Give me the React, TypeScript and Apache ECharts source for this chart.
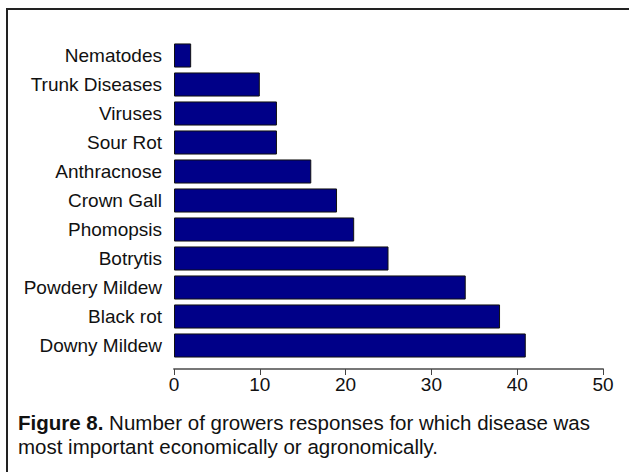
import React, { useEffect, useRef } from "react";
import * as echarts from "echarts";

const categories = [
  "Downy Mildew",
  "Black rot",
  "Powdery Mildew",
  "Botrytis",
  "Phomopsis",
  "Crown Gall",
  "Anthracnose",
  "Sour Rot",
  "Viruses",
  "Trunk Diseases",
  "Nematodes",
];
const responses = [41, 38, 34, 25, 21, 19, 16, 12, 12, 10, 2];
const xTicks = { min: 0, max: 50, interval: 10 };
const captionBold = "Figure 8.";
const captionLine1 = " Number of growers responses for which disease was";
const captionLine2 = "most important economically or agronomically.";

const FONT = "'Liberation Sans', Arial, Helvetica, sans-serif";

export default function App() {
  const ref = useRef<HTMLDivElement>(null);
  useEffect(() => {
    if (!ref.current) return;
    const chart = echarts.init(ref.current, null, { renderer: "svg" });
    chart.setOption({
      animation: false,
      backgroundColor: "#ffffff",
      grid: { left: 174, right: 26, top: 41, height: 319, containLabel: false },
      xAxis: {
        type: "value",
        min: xTicks.min,
        max: xTicks.max,
        interval: xTicks.interval,
        offset: 9,
        axisLine: { show: true, lineStyle: { color: "#777777", width: 2 } },
        axisTick: { show: true, length: 6, lineStyle: { color: "#444444", width: 1 } },
        splitLine: { show: false },
        axisLabel: { color: "#111111", fontSize: 19, fontFamily: FONT, margin: 6 },
      },
      yAxis: {
        type: "category",
        data: categories,
        axisLine: { show: false },
        axisTick: { show: false },
        axisLabel: { color: "#111111", fontSize: 19, fontFamily: FONT, margin: 12 },
      },
      series: [
        {
          type: "bar",
          data: responses,
          barCategoryGap: "17%",
          itemStyle: { color: "#000088", borderColor: "#111111", borderWidth: 1 },
        },
      ],
      graphic: [
        {
          type: "line",
          shape: { x1: 7, y1: 9, x2: 629, y2: 9 },
          style: { stroke: "#222222", lineWidth: 2 },
        },
        {
          type: "line",
          shape: { x1: 7, y1: 8, x2: 7, y2: 472 },
          style: { stroke: "#222222", lineWidth: 2 },
        },
        {
          type: "text",
          x: 18,
          y: 410,
          style: {
            text: "{b|" + captionBold + "}" + captionLine1 + "\n" + captionLine2,
            fill: "#111111",
            fontSize: 20.5,
            fontFamily: FONT,
            lineHeight: 24,
            rich: {
              b: { fontWeight: "bold", fontSize: 20.5, fontFamily: FONT, fill: "#111111", lineHeight: 24 },
            },
          },
        },
      ],
    });
    return () => chart.dispose();
  }, []);
  return (
    <div
      ref={ref}
      style={{ position: "fixed", left: 0, top: 0, width: 629, height: 472 }}
    />
  );
}
